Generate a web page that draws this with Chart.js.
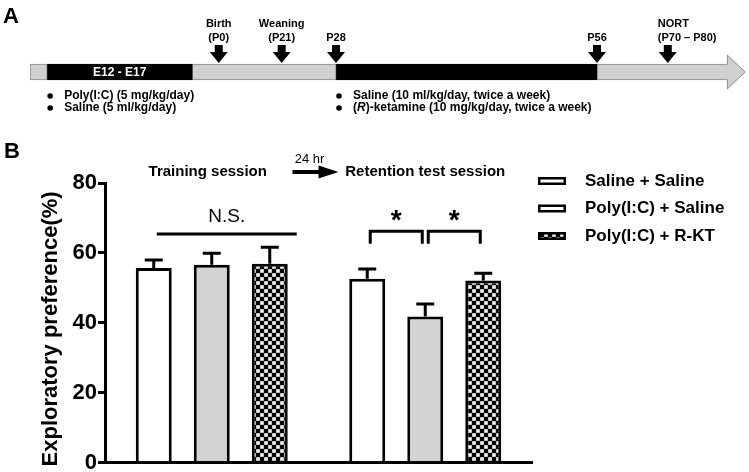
<!DOCTYPE html>
<html><head><meta charset="utf-8">
<script src="https://cdn.jsdelivr.net/npm/chart.js@4.4.1/dist/chart.umd.min.js"></script>
<style>
html,body{margin:0;padding:0;background:#fff;}
#wrap{position:relative;width:749px;height:472px;overflow:hidden;background:#fff;}
#ca{position:absolute;left:0;top:0;}
#cb{position:absolute;left:0;top:125px;}
</style></head><body>
<div id="wrap">
<canvas id="ca" width="749" height="125"></canvas>
<canvas id="cb" width="749" height="352"></canvas>
</div>
<script>
// ---------- Panel A: experimental timeline (schematic units 0-100) ----------
const timelineSegmentLabels = ['', 'E12 - E17', '', '', ''];
const timelineSegmentStart = [0, 2.4, 22.7, 42.8, 79.3];
const timelineSegmentEnd = [2.4, 22.7, 42.8, 79.3, 97.6];
const timelineSegmentTreated = [false, true, false, true, false];
const timelineMarkerLabels = [['Birth', '(P0)'], ['Weaning', '(P21)'], ['P28'], ['P56'], ['NORT', '(P70 – P80)']];
const timelineMarkerPos = [26.4, 35.2, 42.8, 79.3, 89.2];
const prenatalNotes = ['Poly(I:C) (5 mg/kg/day)', 'Saline (5 ml/kg/day)'];
const adolescentNotes = ['Saline (10 ml/kg/day, twice a week)', '(*R*)-ketamine (10 mg/kg/day, twice a week)'];

// ---------- Panel B: exploratory preference ----------
const sessions = ['Training session', 'Retention test session'];
const groupNames = ['Saline + Saline', 'Poly(I:C) + Saline', 'Poly(I:C) + R-KT'];
const salineSalineMean = [55.7, 52.6];
const salineSalineSem = [2.3, 2.8];
const polySalineMean = [56.6, 41.8];
const polySalineSem = [3.3, 3.6];
const polyRktMean = [56.9, 52.1];
const polyRktSem = [4.7, 2.1];
const yTicks = [0, 20, 40, 60, 80];
const yTitle = 'Exploratory preference(%)';
const nsLevel = 65.4;
const starLevel = 66.2;
const starLegLevel = 62.6;
const starPairs = [[0, 1], [1, 2]];
const delayLabel = '24 hr';

const FONT = '"Liberation Sans", Arial, Helvetica, sans-serif';

function makeChecker(ctx) {
  const c = document.createElement('canvas');
  c.width = 8; c.height = 8;
  const g = c.getContext('2d');
  g.fillStyle = '#9a9a9a'; g.fillRect(0, 0, 8, 8);
  g.fillStyle = '#000'; g.fillRect(0, 0, 4, 4); g.fillRect(4, 4, 4, 4);
  g.fillStyle = '#f0f0f0'; g.fillRect(4.5, 0.5, 3, 3); g.fillRect(0.5, 4.5, 3, 3);
  return ctx.createPattern(c, 'repeat');
}

function drawRuns(ctx, text, x, y, size) {
  const parts = text.split('*');
  let cx = x;
  parts.forEach((p, i) => {
    ctx.font = (i % 2 ? 'italic ' : '') + 'bold ' + size + 'px ' + FONT;
    ctx.fillText(p, cx, y);
    cx += ctx.measureText(p).width;
  });
}

// ---------- Chart A ----------
const timelinePlugin = {
  id: 'timelineDeco',
  afterDatasetsDraw(chart) {
    const ctx = chart.ctx, xs = chart.scales.x, ys = chart.scales.y;
    const yc = ys.getPixelForValue(0);
    ctx.save();
    const x0 = xs.getPixelForValue(timelineSegmentEnd[timelineSegmentEnd.length - 1]);
    const x1 = xs.getPixelForValue(100);
    ctx.beginPath();
    ctx.moveTo(x0 - 0.5, yc - 8); ctx.lineTo(x0 - 0.5, yc - 17); ctx.lineTo(x1, yc);
    ctx.lineTo(x0 - 0.5, yc + 17); ctx.lineTo(x0 - 0.5, yc + 8);
    ctx.fillStyle = '#d0d0d0'; ctx.fill();
    ctx.strokeStyle = '#8c8c8c'; ctx.lineWidth = 1; ctx.stroke();
    ctx.fillStyle = '#d0d0d0'; ctx.fillRect(x0 - 2, yc - 7, 3, 14);
    ctx.fillStyle = '#fff'; ctx.font = 'bold 12px ' + FONT;
    ctx.textAlign = 'center'; ctx.textBaseline = 'middle';
    timelineSegmentLabels.forEach((l, i) => {
      if (!l) return;
      const cx = (xs.getPixelForValue(timelineSegmentStart[i]) + xs.getPixelForValue(timelineSegmentEnd[i])) / 2;
      ctx.fillText(l, cx, yc + 0.5);
    });
    ctx.fillStyle = '#000';
    timelineMarkerPos.forEach((p, i) => {
      const x = xs.getPixelForValue(p);
      ctx.fillRect(x - 4, yc - 27, 8, 8);
      ctx.beginPath();
      ctx.moveTo(x - 9, yc - 20); ctx.lineTo(x + 9, yc - 20); ctx.lineTo(x, yc - 9); ctx.closePath(); ctx.fill();
      const lines = timelineMarkerLabels[i];
      const last = i === timelineMarkerPos.length - 1;
      ctx.font = 'bold 11px ' + FONT;
      ctx.textAlign = last ? 'left' : 'center';
      const tx = last ? x - 10 : x;
      lines.forEach((t, k) => {
        const ly = yc - 34 - (lines.length - 1 - k) * 14;
        ctx.fillText(t, tx, ly);
      });
    });
    ctx.textAlign = 'left'; ctx.textBaseline = 'middle';
    const noteGroups = [[prenatalNotes, timelineSegmentStart[1]], [adolescentNotes, timelineSegmentStart[3]]];
    noteGroups.forEach(([notes, start]) => {
      const ax = xs.getPixelForValue(start);
      notes.forEach((t, k) => {
        const ny = yc + 24 + k * 12;
        ctx.beginPath(); ctx.arc(ax + 3, ny, 2.8, 0, Math.PI * 2); ctx.fill();
        drawRuns(ctx, t, ax + 17, ny, 12);
      });
    });
    ctx.font = 'bold 22px ' + FONT; ctx.textBaseline = 'alphabetic';
    ctx.fillText('A', 3, 23);
    ctx.restore();
  }
};

const ca = document.getElementById('ca');
new Chart(ca, {
  type: 'bar',
  data: {
    labels: ['timeline'],
    datasets: timelineSegmentStart.map((s, i) => ({
      label: timelineSegmentLabels[i],
      data: [[s, timelineSegmentEnd[i]]],
      backgroundColor: timelineSegmentTreated[i] ? '#000' : '#d0d0d0',
      borderColor: timelineSegmentTreated[i] ? '#000' : '#8c8c8c',
      borderWidth: 1,
      borderSkipped: false,
      grouped: false,
      barThickness: 16
    }))
  },
  options: {
    indexAxis: 'y',
    responsive: false, animation: false,
    layout: { padding: { left: 30, right: 4, top: 56, bottom: 37 } },
    plugins: { legend: { display: false }, tooltip: { enabled: false } },
    scales: {
      x: { display: false, min: 0, max: 100 },
      y: { display: false }
    }
  },
  plugins: [timelinePlugin]
});

// ---------- Chart B ----------
const cb = document.getElementById('cb');
const checker = makeChecker(cb.getContext('2d'));

const annotPlugin = {
  id: 'annot',
  afterDatasetsDraw(chart) {
    const ctx = chart.ctx, ys = chart.scales.y;
    ctx.save();
    ctx.strokeStyle = '#000'; ctx.fillStyle = '#000'; ctx.lineWidth = 3; ctx.lineCap = 'butt';
    chart.data.datasets.forEach((ds, di) => {
      chart.getDatasetMeta(di).data.forEach((bar, i) => {
        const top = ys.getPixelForValue(ds.data[i]);
        const ye = ys.getPixelForValue(ds.data[i] + ds.sem[i]);
        ctx.beginPath();
        ctx.moveTo(bar.x, top); ctx.lineTo(bar.x, ye);
        ctx.moveTo(bar.x - 9, ye); ctx.lineTo(bar.x + 9, ye);
        ctx.stroke();
      });
    });
    const bar = (d, i) => chart.getDatasetMeta(d).data[i];
    const nsY = ys.getPixelForValue(nsLevel);
    const nx1 = bar(0, 0).x + 3, nx2 = bar(2, 0).x + 27;
    ctx.beginPath(); ctx.moveTo(nx1, nsY); ctx.lineTo(nx2, nsY); ctx.stroke();
    ctx.font = '19px ' + FONT; ctx.textAlign = 'center'; ctx.textBaseline = 'middle';
    ctx.fillText('N.S.', (nx1 + nx2) / 2, nsY - 17);
    const sy = ys.getPixelForValue(starLevel), sl = ys.getPixelForValue(starLegLevel);
    starPairs.forEach(([a, b]) => {
      const x1 = bar(a, 1).x + 3, x2 = bar(b, 1).x - 3;
      ctx.beginPath();
      ctx.moveTo(x1, sl); ctx.lineTo(x1, sy); ctx.lineTo(x2, sy); ctx.lineTo(x2, sl);
      ctx.stroke();
      ctx.font = 'bold 28px ' + FONT; ctx.textBaseline = 'alphabetic';
      ctx.fillText('*', (x1 + x2) / 2, sy - 2);
    });
    ctx.restore();
  },
  afterDraw(chart) {
    const ctx = chart.ctx, xs = chart.scales.x, area = chart.chartArea;
    ctx.save();
    ctx.fillStyle = '#000'; ctx.strokeStyle = '#000';
    // y-axis title
    ctx.save();
    ctx.translate(51, (area.top + area.bottom) / 2 + 6);
    ctx.rotate(-Math.PI / 2);
    ctx.font = 'bold 22px ' + FONT; ctx.textAlign = 'center'; ctx.textBaseline = 'middle';
    ctx.fillText(yTitle, 0, 0);
    ctx.restore();
    // session headers
    ctx.font = 'bold 15px ' + FONT; ctx.textBaseline = 'middle'; ctx.textAlign = 'center';
    const c0 = xs.getPixelForValue(0), c1 = xs.getPixelForValue(1);
    ctx.fillText(sessions[0], c0 - 4, 47);
    ctx.fillText(sessions[1], c1, 47);
    const mid = (c0 + c1) / 2;
    ctx.lineWidth = 4;
    ctx.beginPath(); ctx.moveTo(mid - 26, 47); ctx.lineTo(mid + 2, 47); ctx.stroke();
    ctx.beginPath(); ctx.moveTo(mid, 40.5); ctx.lineTo(mid + 20, 47); ctx.lineTo(mid, 53.5); ctx.closePath(); ctx.fill();
    ctx.font = '13px ' + FONT;
    ctx.fillText(delayLabel, mid - 9, 34);
    // legend
    const fills = ['#fff', '#fff', checker];
    const lx = area.right + 6;
    ctx.textAlign = 'left';
    chart.data.datasets.forEach((ds, i) => {
      const ly = 56 + i * 27.5;
      ctx.fillStyle = fills[i];
      ctx.fillRect(lx, ly - 4, 28, 8);
      ctx.lineWidth = 2.5; ctx.strokeStyle = '#000';
      ctx.strokeRect(lx + 1.25, ly - 2.75, 25.5, 5.5);
      ctx.fillStyle = '#000';
      ctx.font = 'bold 17px ' + FONT;
      ctx.fillText(ds.label, lx + 47, ly);
    });
    ctx.font = 'bold 22px ' + FONT; ctx.textBaseline = 'alphabetic';
    ctx.fillText('B', 4, 33);
    ctx.restore();
  }
};

new Chart(cb, {
  type: 'bar',
  data: {
    labels: sessions,
    datasets: [
      { label: groupNames[0], data: salineSalineMean, sem: salineSalineSem, backgroundColor: '#fff' },
      { label: groupNames[1], data: polySalineMean, sem: polySalineSem, backgroundColor: '#d3d3d3' },
      { label: groupNames[2], data: polyRktMean, sem: polyRktSem, backgroundColor: checker }
    ]
  },
  options: {
    responsive: false, animation: false,
    datasets: { bar: { borderColor: '#000', borderWidth: 3, categoryPercentage: 0.815, barPercentage: 0.62 } },
    layout: { padding: { left: 0, top: 58, right: 217, bottom: 10 } },
    plugins: { legend: { display: false }, tooltip: { enabled: false } },
    scales: {
      x: {
        grid: { display: false }, ticks: { display: false },
        border: { display: true, color: '#000', width: 3 },
        afterFit(s) { s.height = 0; }
      },
      y: {
        min: 0, max: 80,
        afterBuildTicks(s) { s.ticks = yTicks.map(v => ({ value: v })); },
        ticks: { color: '#000', font: { family: FONT, size: 22, weight: 'bold' }, padding: 1 },
        grid: { drawOnChartArea: false, drawTicks: true, tickLength: 7, color: '#000', lineWidth: 3 },
        border: { display: true, color: '#000', width: 3 },
        title: { display: false },
        afterFit(s) { s.width = 105; }
      }
    }
  },
  plugins: [annotPlugin]
});
</script>
</body></html>
